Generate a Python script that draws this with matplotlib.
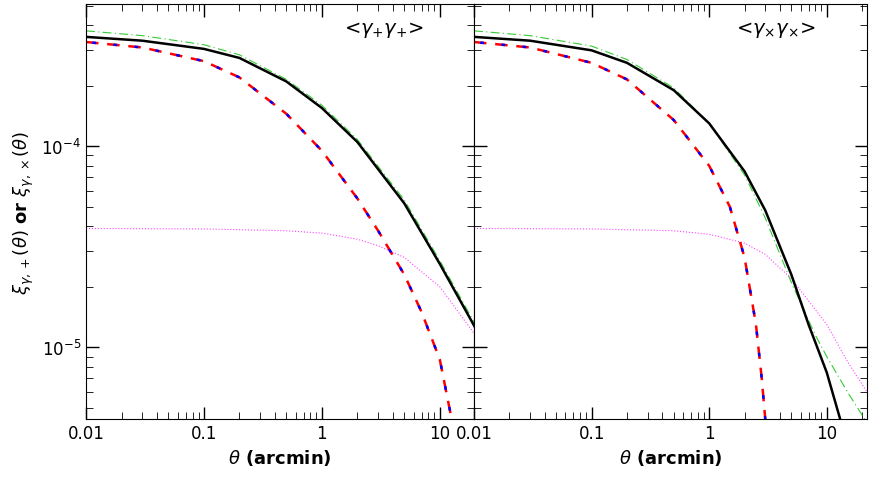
import numpy as np
import matplotlib
matplotlib.use("Agg")
import matplotlib.pyplot as plt

theta_l = [0.01, 0.03, 0.1, 0.2, 0.5, 1, 2, 5, 10, 20]
black_l = [3.5e-4, 3.35e-4, 3.05e-4, 2.75e-4, 2.1e-4, 1.55e-4, 1.05e-4, 5.2e-5, 2.6e-5, 1.25e-5]
green_l = [3.75e-4, 3.55e-4, 3.2e-4, 2.85e-4, 2.15e-4, 1.6e-4, 1.08e-4, 5.4e-5, 2.7e-5, 1.3e-5]
rb_th_l = [0.01, 0.03, 0.1, 0.2, 0.5, 1, 2, 3, 5, 7, 10, 12.6]
rb_l = [3.3e-4, 3.1e-4, 2.65e-4, 2.2e-4, 1.45e-4, 9.5e-5, 5.5e-5, 3.8e-5, 2.3e-5, 1.5e-5, 8.7e-6, 4.4e-6]
theta_ml = [0.01, 0.1, 0.5, 1, 2, 3, 5, 10, 20]
mag_l = [3.9e-5, 3.88e-5, 3.8e-5, 3.7e-5, 3.45e-5, 3.2e-5, 2.8e-5, 2.0e-5, 1.15e-5]

theta_r = [0.01, 0.03, 0.1, 0.2, 0.5, 1, 2, 3, 5, 7, 10, 13]
black_r = [3.5e-4, 3.35e-4, 3.0e-4, 2.6e-4, 1.9e-4, 1.3e-4, 7.5e-5, 4.8e-5, 2.3e-5, 1.3e-5, 7.5e-6, 4.4e-6]
theta_g = [0.01, 0.03, 0.1, 0.2, 0.5, 1, 2, 3, 5, 8, 10, 15, 21]
green_r = [3.75e-4, 3.55e-4, 3.15e-4, 2.7e-4, 1.95e-4, 1.3e-4, 7.2e-5, 4.4e-5, 2.1e-5, 1.15e-5, 9e-6, 6e-6, 4.4e-6]
rb_th_r = [0.01, 0.03, 0.1, 0.2, 0.5, 1, 1.5, 2, 2.5, 2.8, 3.0]
rb_r = [3.3e-4, 3.1e-4, 2.6e-4, 2.15e-4, 1.35e-4, 8.0e-5, 5.0e-5, 2.8e-5, 1.3e-5, 7e-6, 4.4e-6]
theta_m = [0.01, 0.1, 0.5, 1, 2, 3, 5, 10, 15, 22]
mag_r = [3.9e-5, 3.88e-5, 3.8e-5, 3.65e-5, 3.3e-5, 2.9e-5, 2.2e-5, 1.3e-5, 8.5e-6, 6e-6]

xticks = [0.01, 0.1, 1, 10]
xlabels = ["0.01", "0.1", "1", "10"]

fig = plt.figure(figsize=(8.72, 4.81), dpi=100)
axl = fig.add_axes([86/872, 61/481, 388/872, 415/481])
axr = fig.add_axes([474/872, 61/481, 393/872, 415/481])

def style(ax):
    ax.set_xscale("log"); ax.set_yscale("log")
    ax.set_ylim(4.4e-6, 5.1e-4)
    ax.tick_params(which="both", direction="in", top=True, right=True, labelsize=12)
    ax.tick_params(which="major", length=9, width=1)
    ax.tick_params(which="minor", length=5)
    ax.set_xticks(xticks); ax.set_xticklabels(xlabels)
    ax.set_xlabel(r"$\theta$ (arcmin)", fontsize=13, fontweight="bold")

def draw(ax, t, b, tg, g, trb, rb, tm, m):
    ax.plot(tg, g, color="#33cc33", lw=0.8, ls=(0, (8, 3, 1, 3)))
    ax.plot(tm, m, color="#ff44ff", lw=0.8, ls=":")
    ax.plot(t, b, color="black", lw=1.8)
    ax.plot(trb, rb, color="red", lw=1.8, ls=(0, (5, 3.5)))
    ax.plot(trb, rb, color="blue", lw=1.8, ls=(6, (1.5, 7)))

draw(axl, theta_l, black_l, theta_l, green_l, rb_th_l, rb_l, theta_ml, mag_l)
draw(axr, theta_r, black_r, theta_g, green_r, rb_th_r, rb_r, theta_m, mag_r)
style(axl); style(axr)
axl.set_xlim(0.01, 19.5)
axr.set_xlim(0.01, 22)
axr.set_yticklabels([], minor=False); axr.set_yticklabels([], minor=True)
axl.set_ylabel(r"$\xi_{\gamma,+}(\theta)$ or $\xi_{\gamma,\times}(\theta)$", fontsize=13, fontweight="bold")
axl.text(0.87, 0.93, r"<$\gamma_{+}\gamma_{+}$>", transform=axl.transAxes, ha="right", fontsize=14)
axr.text(0.87, 0.93, r"<$\gamma_{\times}\gamma_{\times}$>", transform=axr.transAxes, ha="right", fontsize=14)
fig.savefig("out.png", dpi=100)
